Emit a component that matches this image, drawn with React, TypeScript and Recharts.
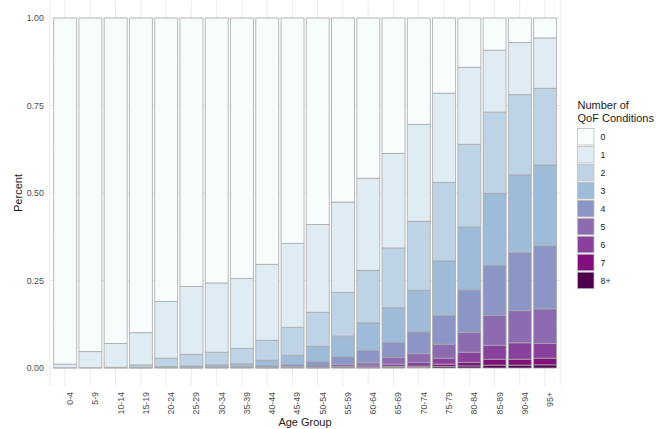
import React from 'react';
import { BarChart, Bar, XAxis, YAxis, CartesianGrid } from 'recharts';

const ageGroups = ['0-4', '5-9', '10-14', '15-19', '20-24', '25-29', '30-34', '35-39', '40-44', '45-49', '50-54', '55-59', '60-64', '65-69', '70-74', '75-79', '80-84', '85-89', '90-94', '95+'];

const seriesNames = ['0', '1', '2', '3', '4', '5', '6', '7', '8+'];
const seriesColors = ['#F7FCFD', '#E0ECF4', '#BFD3E6', '#9EBCDA', '#8C96C6', '#8C6BB1', '#88419D', '#810F7C', '#4D004B'];

const cond0 = [0.989, 0.953, 0.93, 0.899, 0.81, 0.767, 0.757, 0.744, 0.704, 0.644, 0.59, 0.526, 0.458, 0.387, 0.304, 0.215, 0.141, 0.092, 0.07, 0.057];
const cond1 = [0.01, 0.046, 0.068, 0.092, 0.162, 0.194, 0.198, 0.2, 0.217, 0.24, 0.251, 0.258, 0.263, 0.27, 0.277, 0.255, 0.22, 0.177, 0.149, 0.144];
const cond2 = [0.001, 0.001, 0.001, 0.007, 0.024, 0.033, 0.036, 0.044, 0.057, 0.08, 0.097, 0.125, 0.15, 0.171, 0.197, 0.224, 0.236, 0.232, 0.229, 0.219];
const cond3 = [0, 0, 0.001, 0.0015, 0.003, 0.004, 0.006, 0.008, 0.016, 0.025, 0.044, 0.059, 0.079, 0.099, 0.119, 0.155, 0.18, 0.206, 0.221, 0.231];
const cond4 = [0, 0, 0, 0.0005, 0.001, 0.0015, 0.002, 0.003, 0.004, 0.007, 0.012, 0.021, 0.035, 0.043, 0.062, 0.083, 0.121, 0.143, 0.167, 0.18];
const cond5 = [0, 0, 0, 0, 0, 0.0005, 0.001, 0.001, 0.0015, 0.003, 0.004, 0.007, 0.009, 0.019, 0.025, 0.04, 0.057, 0.085, 0.092, 0.099];
const cond6 = [0, 0, 0, 0, 0, 0, 0, 0, 0.0005, 0.001, 0.0015, 0.003, 0.004, 0.007, 0.011, 0.017, 0.029, 0.04, 0.047, 0.042];
const cond7 = [0, 0, 0, 0, 0, 0, 0, 0, 0, 0, 0.0005, 0.001, 0.0015, 0.003, 0.0035, 0.007, 0.01, 0.017, 0.017, 0.019];
const cond8 = [0, 0, 0, 0, 0, 0, 0, 0, 0, 0, 0, 0, 0.0005, 0.001, 0.0015, 0.004, 0.006, 0.008, 0.008, 0.009];

const seriesValues = [cond0, cond1, cond2, cond3, cond4, cond5, cond6, cond7, cond8];

const yTicks = [0, 0.25, 0.5, 0.75, 1];
const yMinor = [0.125, 0.375, 0.625, 0.875];

const data = ageGroups.map((age, i) => {
  const row: Record<string, any> = { age };
  seriesNames.forEach((name, k) => {
    row['c' + k] = seriesValues[k][i];
  });
  return row;
});

const FONT = '"Liberation Sans", Arial, sans-serif';

const AgeTick = (props: any) => {
  const { x, y, payload } = props;
  const tx = x + 5;
  const ty = y + 6.5;
  return (
    <text
      x={tx}
      y={ty}
      transform={`rotate(-90, ${tx}, ${ty})`}
      textAnchor="end"
      dy="0.35em"
      fontSize={8.8}
      fill="#4D4D4D"
      fontFamily={FONT}
    >
      {payload.value}
    </text>
  );
};

export default function App() {
  const stackOrder = [8, 7, 6, 5, 4, 3, 2, 1, 0];
  return (
    <div style={{ position: 'fixed', left: 0, top: 0, width: 657, height: 429, background: '#fff', fontFamily: FONT }}>
      <BarChart
        width={657}
        height={429}
        data={data}
        margin={{ top: 0.5, right: 96.8, bottom: 0, left: 0 }}
        barCategoryGap="5%"
      >
        <CartesianGrid stroke="#F2F2F2" strokeWidth={0.5} horizontalValues={yMinor} vertical={false} />
        <CartesianGrid stroke="#EBEBEB" strokeWidth={1} horizontalValues={yTicks} />
        <XAxis
          dataKey="age"
          interval={0}
          tickLine={false}
          axisLine={false}
          tickSize={0}
          tickMargin={0}
          height={43.5}
          padding={{ left: 2.6, right: 2.6 }}
          tick={<AgeTick />}
        />
        <YAxis
          width={49.8}
          domain={[-0.05, 1.05]}
          allowDataOverflow
          ticks={yTicks}
          tickFormatter={(v: number) => v.toFixed(2)}
          tickLine={false}
          axisLine={false}
          tickSize={4}
          tickMargin={2}
          tick={{ fontSize: 8.8, fill: '#4D4D4D', fontFamily: FONT }}
        />
        {stackOrder.map((k) => (
          <Bar
            key={k}
            dataKey={'c' + k}
            name={seriesNames[k]}
            stackId="a"
            fill={seriesColors[k]}
            stroke="#A8A8A8"
            strokeWidth={0.8}
            isAnimationActive={false}
          />
        ))}
      </BarChart>
      <svg width={657} height={429} style={{ position: 'absolute', left: 0, top: 0, pointerEvents: 'none' }}>
        <text x={21.5} y={193} transform="rotate(-90, 21.5, 193)" textAnchor="middle" fontSize={11} fill="#1A1A1A" fontFamily={FONT}>
          Percent
        </text>
        <text x={305} y={426} textAnchor="middle" fontSize={11} fill="#1A1A1A" fontFamily={FONT}>
          Age Group
        </text>
        <text x={577.5} y={109} fontSize={11} fill="#1A1A1A" fontFamily={FONT}>
          Number of
        </text>
        <text x={577.5} y={121.5} fontSize={11} fill="#1A1A1A" fontFamily={FONT}>
          QoF Conditions
        </text>
        {seriesNames.map((name, i) => (
          <g key={name}>
            <rect x={577.5} y={128.5 + i * 17.96} width={16.5} height={16.5} fill={seriesColors[i]} stroke="#BDBDBD" strokeWidth={0.8} />
            <text x={600.5} y={136.75 + i * 17.96} dy="0.35em" fontSize={8.8} fill="#1A1A1A" fontFamily={FONT}>
              {name}
            </text>
          </g>
        ))}
      </svg>
    </div>
  );
}
